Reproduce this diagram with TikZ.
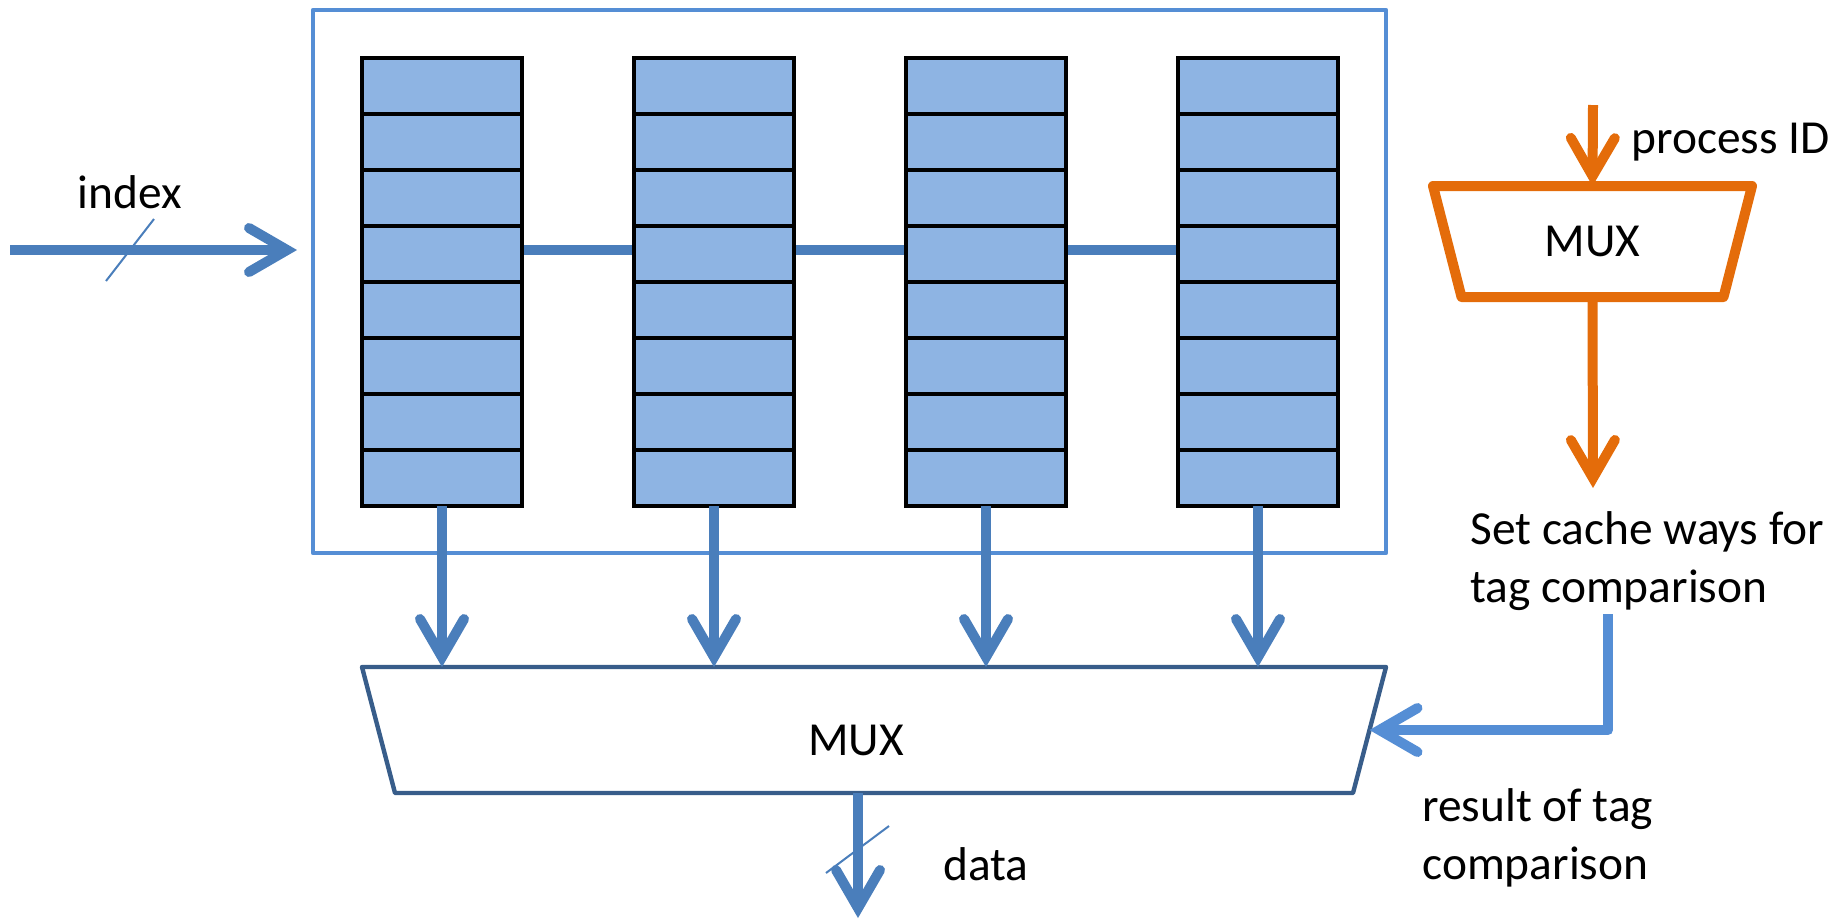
\documentclass[tikz,border=0pt]{standalone}
\usepackage{fontspec}
\setmainfont{Carlito}
\usetikzlibrary{arrows.meta,calc,backgrounds}
\definecolor{cellfill}{HTML}{8EB4E3}
\definecolor{wireblue}{HTML}{4A7EBB}
\definecolor{frameblue}{HTML}{558ED5}
\definecolor{muxblue}{HTML}{385D8A}
\definecolor{muxorange}{HTML}{E46C0A}
\begin{document}
\begin{tikzpicture}[x=0.5pt, y=-0.5pt,
  font=\fontsize{23.7}{29}\selectfont,
  barb/.tip={Straight Barb[length=19pt,width=22pt,line cap=round,line join=miter]},
  cellcol/.style={draw=black, line width=2pt, fill=cellfill,
    minimum width=80pt, minimum height=224pt, inner sep=0pt, outer sep=0pt},
  rowline/.style={draw=black, line width=2pt},
  wire/.style={draw=wireblue, line width=5pt},
  bus/.style={wire, -barb},
  fbbus/.style={draw=frameblue, line width=5pt, line join=round, -barb},
  obus/.style={draw=muxorange, line width=5pt, -barb},
  slash/.style={draw=wireblue, line width=1pt},
  outerframe/.style={draw=frameblue, line width=2.2pt, line join=round,
    minimum width=536.5pt, minimum height=271.5pt, inner sep=0pt, outer sep=0pt},
  muxbody/.style={inner sep=0pt, outer sep=0pt},
  bigmuxedge/.style={draw=muxblue, line width=2.2pt, line join=round},
  orangemuxedge/.style={draw=muxorange, line width=5pt, line join=round},
  txt/.style={inner sep=0pt, text=black}]
\useasboundingbox (0,0) rectangle (1837,918);

% the four cache ways, eight sets each
\foreach \i/\x in {1/442,2/714,3/986,4/1258}
  \node[cellcol] (col\i) at (\x,282) {};
\foreach \i in {1,...,4}
  \foreach \k in {1,...,7}
    \draw[rowline] ($(col\i.north west)!\k/8!(col\i.south west)$) --
                   ($(col\i.north east)!\k/8!(col\i.south east)$);

% index line running behind the ways
\begin{scope}[on background layer]
  \draw[wire] ([yshift=16pt]col1.east) -- ([yshift=16pt]col4.west);
\end{scope}

% enclosing frame of the tag array
\node[outerframe] (box) at (849.5,281.5) {};

% index input
\coordinate (idxin) at (10,250);
\draw[bus] (idxin) -- ($(box.west |- idxin)+(-16,0)$);
\draw[slash] ($(idxin)+(96,31)$) -- ($(idxin)+(144,-31)$);
\node[txt, anchor=base] (idxlabel) at (130,208) {index};

% way-select multiplexer (trapezoid, wide side on top)
\node[muxbody, minimum width=512pt, minimum height=63pt] (mux) at (874,730) {};
\draw[bigmuxedge] (mux.north west) -- (mux.north east)
  -- ([xshift=-16.5pt]mux.south east) -- ([xshift=16.5pt]mux.south west) -- cycle;
\node[txt, anchor=base] (muxlabel) at (856,755) {MUX};
\foreach \i in {1,...,4}
  \draw[bus] (col\i.south) -- (col\i.south |- mux.north);

% data output
\coordinate (dataout) at (858,918);
\draw[bus] (mux.south -| dataout) -- (dataout);
\draw[slash] ($(dataout)+(-32,-45)$) -- ($(dataout)+(31,-92)$);
\node[txt, anchor=base west] (datalabel) at (943,880) {data};

% process-ID multiplexer
\node[muxbody, minimum width=159.5pt, minimum height=55.5pt] (omux) at (1592.5,241.5) {MUX};
\draw[orangemuxedge] (omux.north west) -- (omux.north east)
  -- ([xshift=-14.25pt]omux.south east) -- ([xshift=14.25pt]omux.south west) -- cycle;
\coordinate (pidin) at (1593,105);
\draw[obus] (pidin) -- (omux.north);
\node[txt, anchor=base west] (pidlabel) at (1631,153) {process ID};
\coordinate (wayout) at (1593,488);
\draw[obus] (omux.south) -- (wayout);
\node[txt, anchor=base west, align=left] (waylabel) at (1470,602)
  {Set cache ways for\\tag comparison};

% tag comparison feedback
\coordinate (fbstart) at (1608,614);
\draw[fbbus] (fbstart) |- ([xshift=-8.25pt]mux.east);
\node[txt, anchor=base west, align=left] (reslabel) at (1422,879)
  {result of tag\\comparison};
\end{tikzpicture}
\end{document}
